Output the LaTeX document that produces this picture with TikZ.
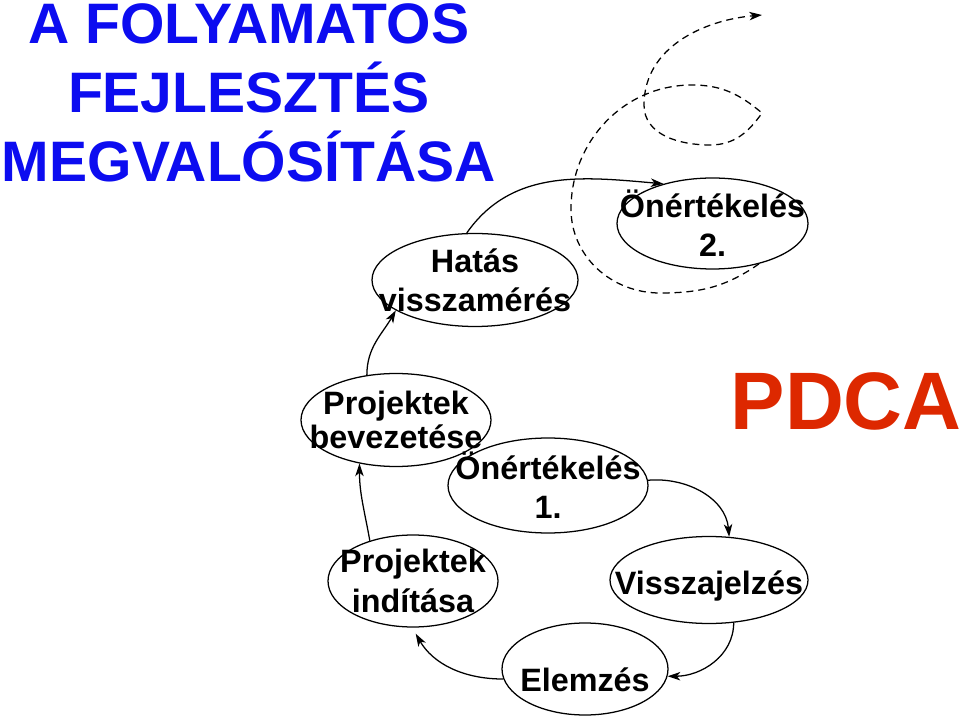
\documentclass[tikz,border=0pt]{standalone}
\usepackage{fontspec}
\setmainfont{Liberation Sans}
\usetikzlibrary{arrows.meta,shapes.geometric}
\definecolor{titleblue}{RGB}{12,12,240}
\definecolor{pdcared}{RGB}{221,40,0}
\begin{document}
\begin{tikzpicture}[
    bubble/.style={draw, ellipse, line width=0.9pt, inner sep=0pt},
    txt/.style={font=\bfseries\fontsize{23}{28}\selectfont, align=center, inner sep=0pt},
    flow/.style={line width=0.9pt, -{Stealth[length=9pt,width=6pt,inset=2.5pt]}},
  ]
  \useasboundingbox (0,0) rectangle (24,17.925);

  % Title
  \node[text=titleblue, font=\bfseries\fontsize{40.6}{49}\selectfont, align=center, anchor=north, inner sep=0pt] (title) at (6.22,17.84) {A FOLYAMATOS\\FEJLESZTÉS\\MEGVALÓSÍTÁSA};
  \node[text=pdcared, font=\bfseries\fontsize{58}{62}\selectfont, anchor=base west, inner sep=0pt] (pdca) at (18.26,7.175) {PDCA};

  % Lower cycle
  \node[bubble, minimum width=4.25cm, minimum height=2.3cm, label={[txt]center:{Projektek\\indítása}}] (indit) at (10.325,3.4) {};
  \node[bubble, minimum width=4.75cm, minimum height=2.325cm, label={[txt]center:{Projektek\\[-4pt]bevezetése}}] (bevez) at (9.9,7.425) {};
  \node[bubble, minimum width=5cm, minimum height=2.375cm, label={[txt]center:{Önértékelés\\1.}}] (onert1) at (13.7,5.7875) {};
  \node[bubble, minimum width=4.95cm, minimum height=2.175cm, label={[txt, yshift=-0.14cm]center:Visszajelzés}] (vissza) at (17.725,3.425) {};
  \node[bubble, minimum width=4.15cm, minimum height=2.3cm, label={[txt, yshift=-0.275cm]center:Elemzés}] (elem) at (14.625,1.2) {};

  % Upper cycle
  \node[bubble, minimum width=5.15cm, minimum height=2.325cm, label={[txt]center:{Hatás\\visszamérés}}] (hatas) at (11.875,10.925) {};
  \node[bubble, minimum width=4.775cm, minimum height=2.275cm, label={[txt]center:{Önértékelés\\2.}}] (onert2) at (17.8125,12.3375) {};

  % Arrows
  \draw[flow] (indit.137) to[out=100,in=-90] (bevez.230);
  \draw[flow] (bevez.123) to[out=90,in=240] (hatas.201);
  \draw[flow] (hatas.100) to[out=55,in=175] (onert2.141);
  \draw[flow] (onert1.3) to[out=5,in=95] (vissza.65);
  \draw[flow] (vissza.-60) to[out=-90,in=0] (elem.-5);
  \draw[flow, shorten >=5pt] (elem.187) to[out=180,in=-60] (indit.-91);

  % Spiral onwards
  \coordinate (spiralend) at (19.05,17.55);
  \draw[flow, dash pattern=on 5pt off 3.5pt] (onert2.-41) to[out=215,in=0] (16.5,10.6)
    to[out=180,in=-90] (14.275,12.7) to[out=90,in=180] (17.3,15.8) to[out=0,in=140] (19.05,15.1)
    to[out=235,in=0] (17.75,14.3) to[out=180,in=-90] (16.1,15.3) to[out=90,in=185] (spiralend);
\end{tikzpicture}
\end{document}
